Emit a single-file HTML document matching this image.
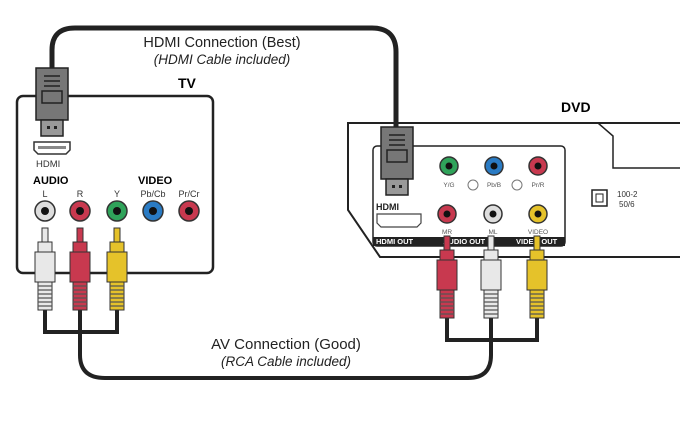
<!DOCTYPE html>
<html><head><style>
body{margin:0;background:#fff}
svg{display:block}
text{font-family:"Liberation Sans",sans-serif}
</style></head><body>
<svg width="680" height="432" viewBox="0 0 680 432" xmlns="http://www.w3.org/2000/svg">
<defs>
<g id="plug">
 <rect x="-3" y="0" width="6" height="22" fill="currentColor" stroke="#333" stroke-width="1"/>
 <path d="M-7 14 h14 v10 h-14z" fill="currentColor" stroke="#333"/>
 <rect x="-10" y="24" width="20" height="30" fill="currentColor" stroke="#333"/>
 <rect x="-7" y="54" width="14" height="28" fill="currentColor" stroke="#333"/>
 <path d="M-7 58h14M-7 62h14M-7 66h14M-7 70h14M-7 74h14M-7 78h14" stroke="#555" stroke-width="1.2"/>
</g>
<g id="hdmi">
 <path d="M-16 0 h32 v52 h-32z" fill="#777" stroke="#222" stroke-width="1.5"/>
 <path d="M-8 8h16M-8 13h16M-8 18h16" stroke="#222" stroke-width="1.5"/>
 <rect x="-10" y="23" width="20" height="12" fill="none" stroke="#222" stroke-width="1.5"/>
 <rect x="-11" y="52" width="22" height="16" fill="#999" stroke="#222" stroke-width="1.5"/>
 <rect x="-5" y="58" width="3" height="3" fill="#222"/><rect x="2" y="58" width="3" height="3" fill="#222"/>
</g>
</defs>

<path d="M52 70 V50 Q52 28 75 28 H372 Q396 28 396 52 V128" fill="none" stroke="#222" stroke-width="5"/>

<rect x="17" y="96" width="196" height="177" rx="6" fill="#fff" stroke="#222" stroke-width="2.5"/>
<text x="178" y="88" font-size="14" font-weight="bold">TV</text>

<use href="#hdmi" x="52" y="68"/>
<path d="M34 142 h36 v8 l-4 4 h-28 l-4 -4z" fill="#fff" stroke="#333" stroke-width="1.5"/>
<rect x="38" y="146" width="28" height="3" fill="#888"/>
<text x="36" y="167" font-size="9.5" fill="#333">HDMI</text>

<text x="33" y="184" font-size="11" font-weight="bold">AUDIO</text>
<text x="138" y="184" font-size="11" font-weight="bold">VIDEO</text>
<g font-size="9" fill="#333" text-anchor="middle">
<text x="45" y="197">L</text><text x="80" y="197">R</text><text x="117" y="197">Y</text>
<text x="153" y="197">Pb/Cb</text><text x="189" y="197">Pr/Cr</text>
</g>
<g stroke="#333" stroke-width="1.5">
<circle cx="45" cy="211" r="10" fill="#ddd"/><circle cx="80" cy="211" r="10" fill="#c8394f"/>
<circle cx="117" cy="211" r="10" fill="#2fa35a"/><circle cx="153" cy="211" r="10" fill="#2a7bc4"/>
<circle cx="189" cy="211" r="10" fill="#c8394f"/>
</g>
<g fill="#111"><circle cx="45" cy="211" r="4"/><circle cx="80" cy="211" r="4"/><circle cx="117" cy="211" r="4"/><circle cx="153" cy="211" r="4"/><circle cx="189" cy="211" r="4"/></g>

<path d="M45 310 V332 H117 V310" fill="none" stroke="#222" stroke-width="4"/>
<path d="M80 310 V355 Q80 378 105 378 H468 Q491 378 491 355 V318" fill="none" stroke="#222" stroke-width="4"/>
<path d="M447 318 V340 H537 V318" fill="none" stroke="#222" stroke-width="4"/>

<use href="#plug" x="45" y="228" color="#e8e8e8"/>
<use href="#plug" x="80" y="228" color="#c8394f"/>
<use href="#plug" x="117" y="228" color="#e5c22a"/>

<text x="222" y="47" font-size="14.5" text-anchor="middle" fill="#222">HDMI Connection (Best)</text>
<text x="222" y="64" font-size="13.5" font-style="italic" text-anchor="middle" fill="#222">(HDMI Cable included)</text>
<text x="286" y="349" font-size="15" text-anchor="middle" fill="#222">AV Connection (Good)</text>
<text x="286" y="366" font-size="13.5" font-style="italic" text-anchor="middle" fill="#222">(RCA Cable included)</text>

<text x="561" y="112" font-size="14" font-weight="bold">DVD</text>
<path d="M680 123 H348 V210 L380 257 H680" fill="none" stroke="#222" stroke-width="2"/>
<path d="M598 123 L613 136 V168 H680" fill="none" stroke="#222" stroke-width="1.5"/>
<rect x="592" y="190" width="15" height="16" fill="none" stroke="#222" stroke-width="1.5"/>
<rect x="596" y="194" width="7" height="8" fill="none" stroke="#222" stroke-width="1"/>
<text x="617" y="197" font-size="8" fill="#333">100-2</text>
<text x="619" y="207" font-size="8" fill="#333">50/6</text>

<rect x="373" y="146" width="192" height="100" rx="4" fill="#fff" stroke="#222" stroke-width="1.5"/>
<rect x="373" y="237" width="192" height="9" fill="#222"/>
<g font-size="7.5" font-weight="bold" fill="#fff">
<text x="376" y="244">HDMI OUT</text><text x="443" y="244">AUDIO OUT</text><text x="516" y="244">VIDEO OUT</text>
</g>
<text x="376" y="210" font-size="9" font-weight="bold" fill="#222">HDMI</text>
<path d="M377 214 h44 v9 l-4 4 h-36 l-4 -4z" fill="#fff" stroke="#444" stroke-width="1.2"/>
<g stroke="#333" stroke-width="1.5">
<circle cx="449" cy="166" r="9" fill="#2fa35a"/><circle cx="494" cy="166" r="9" fill="#2a7bc4"/><circle cx="538" cy="166" r="9" fill="#c8394f"/>
<circle cx="447" cy="214" r="9" fill="#c8394f"/><circle cx="493" cy="214" r="9" fill="#ddd"/><circle cx="538" cy="214" r="9" fill="#e5c22a"/>
</g>
<g fill="#111"><circle cx="449" cy="166" r="3.5"/><circle cx="494" cy="166" r="3.5"/><circle cx="538" cy="166" r="3.5"/><circle cx="447" cy="214" r="3.5"/><circle cx="493" cy="214" r="3.5"/><circle cx="538" cy="214" r="3.5"/></g>
<circle cx="473" cy="185" r="5" fill="none" stroke="#777"/><circle cx="517" cy="185" r="5" fill="none" stroke="#777"/>
<g font-size="6.5" fill="#555" text-anchor="middle">
<text x="449" y="187">Y/G</text><text x="494" y="187">Pb/B</text><text x="538" y="187">Pr/R</text>
<text x="447" y="234">MR</text><text x="493" y="234">ML</text><text x="538" y="234">VIDEO</text>
</g>
<use href="#hdmi" x="397" y="127"/>
<use href="#plug" x="447" y="236" color="#c8394f"/>
<use href="#plug" x="491" y="236" color="#e8e8e8"/>
<use href="#plug" x="537" y="236" color="#e5c22a"/>
</svg>
</body></html>
